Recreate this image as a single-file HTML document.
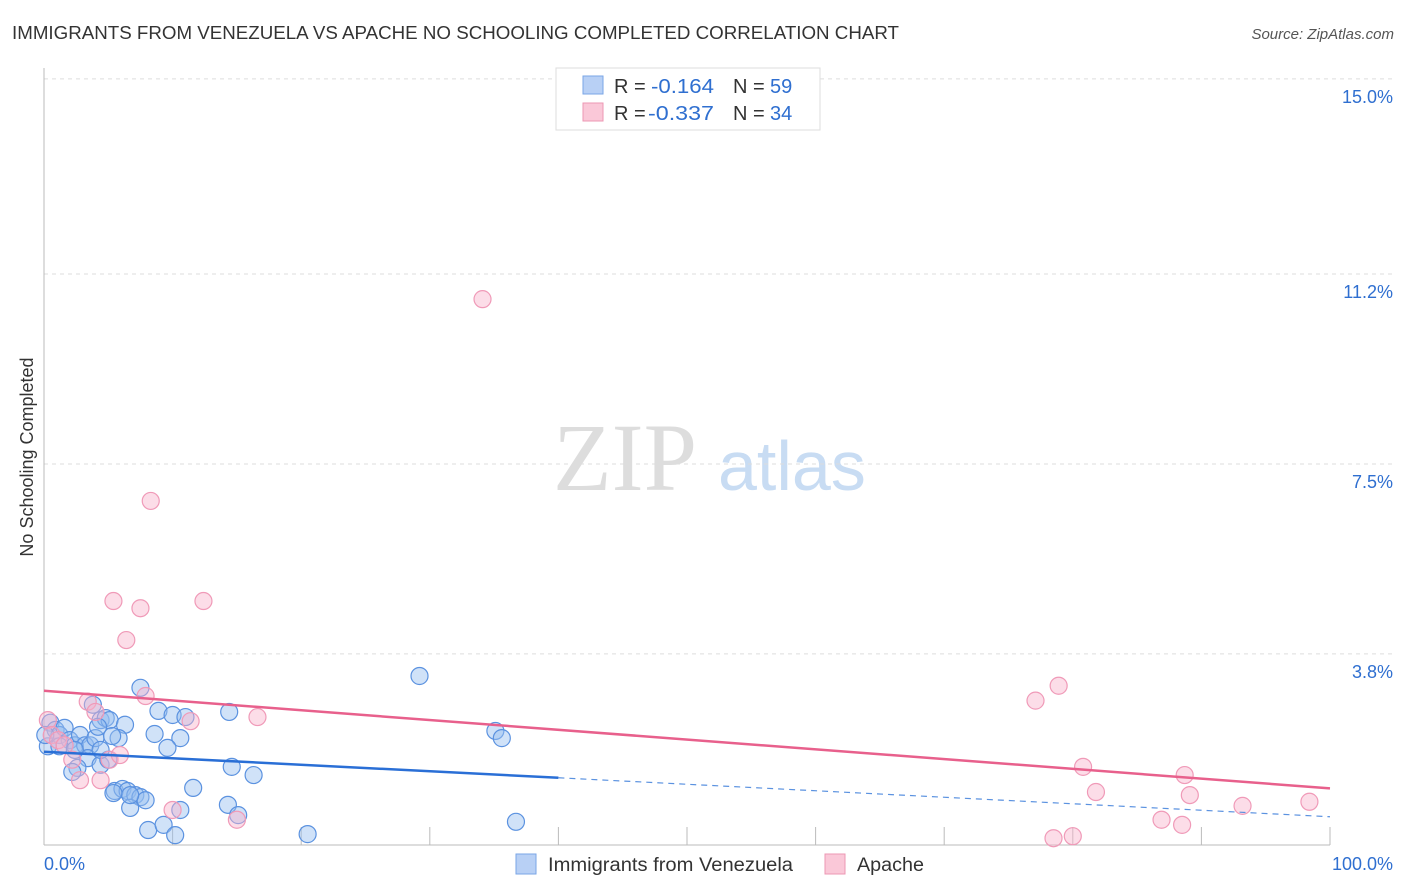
<!DOCTYPE html>
<html><head><meta charset="utf-8"><style>
body{margin:0;background:#fff;font-family:"Liberation Sans",sans-serif}
svg{display:block}
</style></head><body>
<svg id="c" width="1406" height="892">
<text x="12" y="39" font-size="18" fill="#333" textLength="887" lengthAdjust="spacingAndGlyphs">IMMIGRANTS FROM VENEZUELA VS APACHE NO SCHOOLING COMPLETED CORRELATION CHART</text>
<text x="1394" y="39" font-size="15" fill="#555" font-style="italic" text-anchor="end">Source: ZipAtlas.com</text>
<text x="33" y="457" font-size="18" fill="#333" text-anchor="middle" transform="rotate(-90 33 457)">No Schooling Completed</text>
<text x="553" y="490" font-size="96" fill="#ddd" font-family="Liberation Serif,serif">ZIP</text>
<text x="718" y="490" font-size="70" fill="#c8dcf3">atlas</text>
<g id="grid"></g><g id="marks"></g>
<g>
<rect x="556" y="68" width="264" height="62" fill="#fff" stroke="#ddd"/>
<rect x="583" y="76" width="20" height="18" fill="#b8d0f5" stroke="#7aa6e6"/>
<rect x="583" y="103" width="20" height="18" fill="#fac8d8" stroke="#ec97b3"/>
<text x="614" y="93" font-size="20" fill="#333">R =</text>
<text x="651" y="93" font-size="20" fill="#2f6fd0" textLength="63" lengthAdjust="spacingAndGlyphs">-0.164</text>
<text x="733" y="93" font-size="20" fill="#333">N =</text>
<text x="770" y="93" font-size="20" fill="#2f6fd0">59</text>
<text x="614" y="120" font-size="20" fill="#333">R =</text>
<text x="648" y="120" font-size="20" fill="#2f6fd0" textLength="66" lengthAdjust="spacingAndGlyphs">-0.337</text>
<text x="733" y="120" font-size="20" fill="#333">N =</text>
<text x="770" y="120" font-size="20" fill="#2f6fd0">34</text>
</g>
<g>
<rect x="516" y="854" width="20" height="20" fill="#b8d0f5" stroke="#7aa6e6"/>
<text x="548" y="871" font-size="19" fill="#333" textLength="245" lengthAdjust="spacingAndGlyphs">Immigrants from Venezuela</text>
<rect x="825" y="854" width="20" height="20" fill="#fac8d8" stroke="#ec97b3"/>
<text x="857" y="871" font-size="19" fill="#333" textLength="67" lengthAdjust="spacingAndGlyphs">Apache</text>
</g>
<text x="44" y="870" font-size="18" fill="#2f6fd0">0.0%</text>
<text x="1393" y="870" font-size="18" fill="#2f6fd0" text-anchor="end">100.0%</text>
</svg>
<script>
const yTicks=[15.0,11.2,7.5,3.8];
const yTickLabels=["15.0%","11.2%","7.5%","3.8%"];
const blueX=[0.5,0.3,0.9,1.2,1.6,2.0,2.4,2.8,3.2,3.6,4.0,4.4,4.8,5.1,3.8,3.4,2.6,2.2,4.4,5.0,6.3,5.8,5.3,7.5,8.9,10.0,11.0,8.6,10.6,9.6,5.5,6.1,6.5,7.1,7.5,7.9,6.7,11.6,8.1,9.3,10.2,10.6,14.3,15.1,14.6,16.3,14.4,29.2,35.1,35.6,36.7,20.5,4.2,1.2,2.4,6.7,4.4,5.4,0.1];
const blueY=[2.46,2.0,2.32,2.22,2.36,2.12,2.02,2.22,2.02,2.02,2.16,2.51,2.55,2.51,2.81,1.77,1.58,1.5,1.64,1.74,2.42,2.16,2.2,3.14,2.69,2.61,2.57,2.24,2.16,1.97,1.13,1.17,1.13,1.05,1.01,0.95,0.8,1.19,0.37,0.47,0.27,0.76,0.86,0.66,1.6,1.44,2.67,3.37,2.3,2.16,0.53,0.29,2.38,2.0,1.93,1.05,1.93,1.09,2.22];
const pinkX=[0.3,0.6,1.1,1.6,3.4,4.0,2.2,2.8,4.4,5.1,5.9,7.9,11.4,16.6,8.3,5.4,7.5,12.4,6.4,34.1,10.0,15.0,77.1,78.9,80.8,81.8,88.7,89.1,86.9,88.5,93.2,98.4,78.5,80.0];
const pinkY=[2.51,2.22,2.12,2.02,2.87,2.67,1.74,1.34,1.34,1.74,1.83,2.98,2.49,2.57,6.78,4.83,4.69,4.83,4.07,10.71,0.76,0.57,2.89,3.18,1.6,1.11,1.44,1.05,0.57,0.47,0.84,0.92,0.21,0.25];
const X=v=>44+v*12.86;
const Y=v=>849-v*51.34;
const ns="http://www.w3.org/2000/svg";
const grid=document.getElementById('grid'),marks=document.getElementById('marks'),svg=document.getElementById('c');
function mk(t,a,p){const e=document.createElementNS(ns,t);for(const k in a)e.setAttribute(k,a[k]);p.appendChild(e);return e;}
yTicks.forEach((t,i)=>{
 const l=mk('line',{x1:44,x2:1394,y1:Y(t),y2:Y(t),stroke:'#ddd','stroke-dasharray':'4,4'},grid);
 
 
 const tx=mk('text',{x:1393,y:Y(t)+24,'font-size':18,fill:'#2f6fd0','text-anchor':'end'},svg);
 tx.textContent=yTickLabels[i];
 
 
});
const ax=mk('line',{x1:44,x2:44,y1:68,y2:845,stroke:'#bbb'},grid);


const bx=mk('line',{x1:44,x2:1330,y1:845,y2:845,stroke:'#bbb'},grid);


for(let i=0;i<=10;i++){const t=mk('line',{x1:44+i*128.6,x2:44+i*128.6,y1:827,y2:845,stroke:'#bbb'},grid);
 
 }
blueX.forEach((x,i)=>{const c=mk('circle',{cx:X(x),cy:Y(blueY[i]),r:8.5,fill:'rgba(150,190,240,0.45)',stroke:'#5b92e0','stroke-width':1.2},marks);
 
 });
pinkX.forEach((x,i)=>{const c=mk('circle',{cx:X(x),cy:Y(pinkY[i]),r:8.5,fill:'rgba(248,180,205,0.45)',stroke:'#f09ab8','stroke-width':1.2},marks);
 
 });
function fit(xs,ys){const n=xs.length,mx=xs.reduce((a,b)=>a+b)/n,my=ys.reduce((a,b)=>a+b)/n;let sxy=0,sxx=0;xs.forEach((x,i)=>{sxy+=(x-mx)*(ys[i]-my);sxx+=(x-mx)**2});const b=sxy/sxx;return[my-b*mx,b];}
const [ba,bb]=fit(blueX,blueY),[pa,pb]=fit(pinkX,pinkY);
let l=mk('line',{x1:X(0),y1:Y(ba),x2:X(40),y2:Y(ba+bb*40),stroke:'#2a6fd6','stroke-width':2.5},marks);


l=mk('line',{x1:X(40),y1:Y(ba+bb*40),x2:X(100),y2:Y(ba+bb*100),stroke:'#5b92e0','stroke-width':1.2,'stroke-dasharray':'6,5'},marks);


l=mk('line',{x1:X(0),y1:Y(pa),x2:X(100),y2:Y(pa+pb*100),stroke:'#e8608c','stroke-width':2.5},marks);


</script>
</body></html>
